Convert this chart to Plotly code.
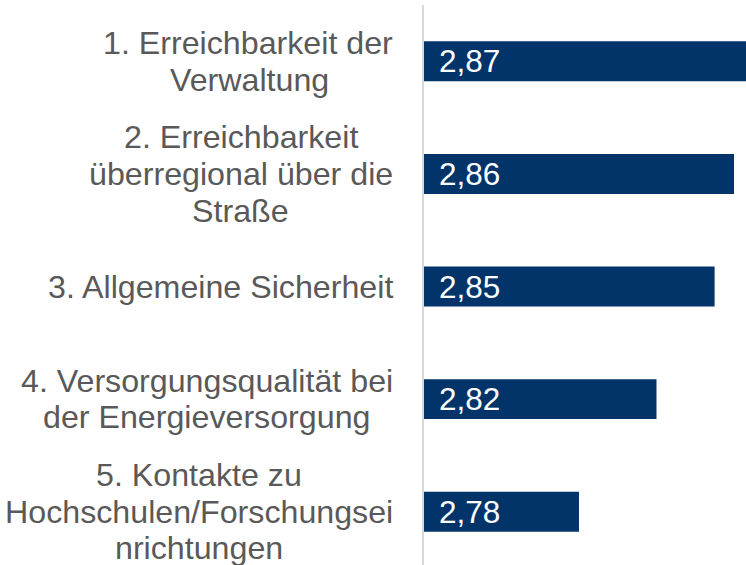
import plotly.graph_objects as go

# Category labels (line breaks as in the reference)
categories = [
    ["1. Erreichbarkeit der", "Verwaltung"],
    ["2. Erreichbarkeit", "überregional über die", "Straße"],
    ["3. Allgemeine Sicherheit"],
    ["4. Versorgungsqualität bei", "der Energieversorgung"],
    ["5. Kontakte zu", "Hochschulen/Forschungsei", "nrichtungen"],
]
values = [2.87, 2.86, 2.85, 2.82, 2.78]

BAR_COLOR = "#02346A"
LABEL_COLOR = "#595959"
FONT = "Liberation Sans, Arial, sans-serif"
LABEL_SIZE = 32.2
VALUE_SIZE = 31.5
LINE_H = 36.7
LABEL_GAP = 31
X_MIN = 2.70
X_MAX = 2.8662

# Arial / Liberation Sans advance widths (per 1000 em) for text layout
W = {" ": 278, ".": 278, "/": 278, "A": 667, "E": 667, "F": 611, "H": 722,
     "K": 667, "S": 667, "V": 667, "a": 556, "b": 556, "c": 500, "d": 556,
     "e": 556, "f": 278, "g": 556, "h": 556, "i": 222, "k": 500, "l": 222,
     "m": 833, "n": 556, "o": 556, "q": 556, "r": 333, "s": 500, "t": 278,
     "u": 556, "v": 500, "w": 722, "z": 500, "ä": 556, "ü": 556, "ß": 611}


def text_width(s, size):
    return sum(W.get(ch, 556) for ch in s) * size / 1000.0


fig = go.Figure()
fig.add_trace(go.Bar(
    x=values,
    y=list(range(len(categories))),
    orientation="h",
    marker=dict(color=BAR_COLOR, line=dict(width=0)),
    hoverinfo="skip",
))

annotations = []
for i, (lines, v) in enumerate(zip(categories, values)):
    widths = [text_width(s, LABEL_SIZE) for s in lines]
    block_w = max(widths)
    n = len(lines)
    for k, (s, w) in enumerate(zip(lines, widths)):
        annotations.append(dict(
            x=0, xref="paper", y=i, yref="y",
            text=s, showarrow=False,
            xanchor="right", yanchor="middle", align="center",
            xshift=-(LABEL_GAP - 2) - (block_w - w) / 2,
            yshift=-(k - (n - 1) / 2) * LINE_H,
            font=dict(family=FONT, size=LABEL_SIZE, color=LABEL_COLOR),
        ))
    annotations.append(dict(
        x=X_MIN, xref="x", y=i, yref="y",
        text=f"{v:.2f}".replace(".", ","), showarrow=False,
        xanchor="left", yanchor="middle",
        xshift=13,
        font=dict(family=FONT, size=VALUE_SIZE, color="white"),
    ))

fig.update_layout(
    width=746, height=565,
    margin=dict(l=424, r=0, t=5, b=0),
    paper_bgcolor="white", plot_bgcolor="white",
    bargap=0.645,
    showlegend=False,
    annotations=annotations,
    xaxis=dict(range=[X_MIN, X_MAX], showgrid=False, zeroline=False,
               showticklabels=False, showline=False, fixedrange=True),
    yaxis=dict(range=[len(categories) - 0.527, -0.5], showgrid=False,
               zeroline=False, showticklabels=False, showline=True,
               linecolor="#D9D9D9", linewidth=2, ticks="", fixedrange=True),
)

fig.write_html(
    "out.html",
    config={"displayModeBar": False},
    post_script="document.body.style.margin='0';document.body.style.overflow='hidden';",
)
